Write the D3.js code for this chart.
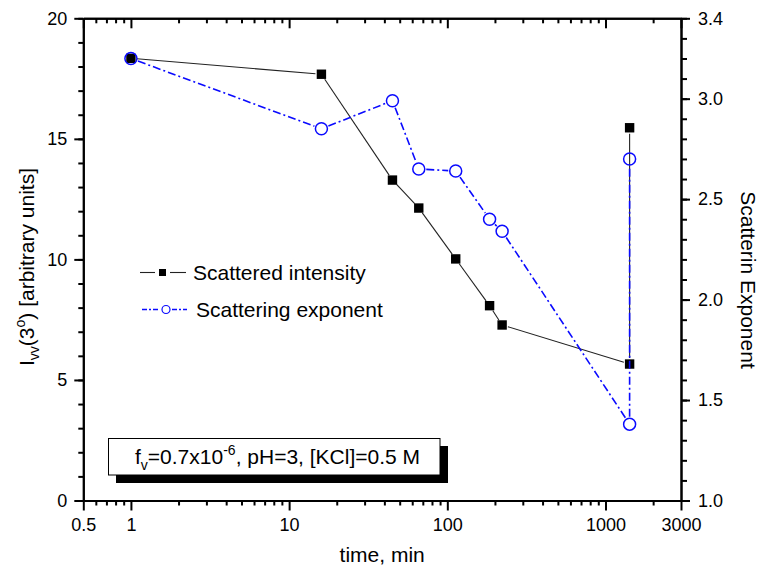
<!DOCTYPE html>
<html>
<head>
<meta charset="utf-8">
<script src="https://cdnjs.cloudflare.com/ajax/libs/d3/7.8.5/d3.min.js"></script>
<style>
  body { margin: 0; background: #fff; }
  svg text { font-family: Arial, "Liberation Sans", sans-serif; fill: #000; }
</style>
</head>
<body>
<svg id="chart" width="761" height="571"></svg>
<script>
// time in minutes (last two points share the same time)
var times = [1, 16, 45, 66, 113, 185, 222, 1420, 1420];
// scattered intensity, left axis
var intensity = [18.34, 17.68, 13.29, 12.13, 10.02, 8.08, 7.28, 5.66, 15.46];
// scattering exponent, right axis
var exponent = [3.20, 2.85, 2.99, 2.65, 2.64, 2.40, 2.34, 1.38, 2.70];

var xMajor = [0.5, 1, 10, 100, 1000, 3000];
var xMajorLabels = ["0.5", "1", "10", "100", "1000", "3000"];
var xMinor = [0.6, 0.7, 0.8, 0.9, 2, 3, 4, 5, 6, 7, 8, 9, 20, 30, 40, 50, 60, 70, 80, 90,
  200, 300, 400, 500, 600, 700, 800, 900, 2000];
var yLeftMajor = [0, 5, 10, 15, 20];
var yRightMajor = [1.0, 1.5, 2.0, 2.5, 3.0, 3.4];

var legendNames = ["Scattered intensity", "Scattering exponent"];

var plot = {left: 83.3, right: 681, top: 18.3, bottom: 500.5};
var blue = "#0a0aff";

var svg = d3.select("#chart");

var x = d3.scaleLog().domain([0.5, 3000]).range([plot.left, plot.right]);
var yL = d3.scaleLinear().domain([0, 20]).range([plot.bottom, plot.top]);
var yR = d3.scaleLinear().domain([1, 3.4]).range([plot.bottom, plot.top]);

function range(a, b, step) {
  var out = [];
  for (var v = a; v <= b + 1e-9; v += step) out.push(+v.toFixed(4));
  return out;
}

function styleAxis(g) {
  g.selectAll("path, line").attr("stroke", "#000").attr("stroke-width", 2);
  g.selectAll("text").style("font-size", "18px")
    .style("font-family", "Arial, 'Liberation Sans', sans-serif");
}

// minor ticks first, majors on top
svg.append("g").attr("transform", "translate(0," + plot.bottom + ")")
  .call(d3.axisBottom(x).tickValues(xMinor).tickFormat("").tickSize(5).tickSizeOuter(0))
  .call(styleAxis);
svg.append("g").attr("transform", "translate(0," + plot.bottom + ")")
  .call(d3.axisBottom(x).tickValues(xMajor).tickSize(10).tickSizeOuter(0).tickPadding(8)
    .tickFormat(function(d, i) { return xMajorLabels[i]; }))
  .call(styleAxis);

// top axis, ticks pointing inward, no labels
svg.append("g").attr("transform", "translate(0," + plot.top + ")")
  .call(d3.axisTop(x).tickValues(xMinor).tickFormat("").tickSize(-5).tickSizeOuter(0))
  .call(styleAxis);
svg.append("g").attr("transform", "translate(0," + plot.top + ")")
  .call(d3.axisTop(x).tickValues(xMajor).tickFormat("").tickSize(-10).tickSizeOuter(0))
  .call(styleAxis);

svg.append("g").attr("transform", "translate(" + plot.left + ",0)")
  .call(d3.axisLeft(yL).tickValues(range(0, 20, 1)).tickFormat("").tickSize(5).tickSizeOuter(0))
  .call(styleAxis);
svg.append("g").attr("transform", "translate(" + plot.left + ",0)")
  .call(d3.axisLeft(yL).tickValues(yLeftMajor).tickFormat(d3.format("d")).tickSize(9)
    .tickSizeOuter(0).tickPadding(7))
  .call(styleAxis);

svg.append("g").attr("transform", "translate(" + plot.right + ",0)")
  .call(d3.axisRight(yR).tickValues(range(1, 3.4, 0.1)).tickFormat("").tickSize(6).tickSizeOuter(0))
  .call(styleAxis);
svg.append("g").attr("transform", "translate(" + plot.right + ",0)")
  .call(d3.axisRight(yR).tickValues(yRightMajor).tickFormat(d3.format(".1f")).tickSize(9)
    .tickSizeOuter(0).tickPadding(8))
  .call(styleAxis);

// axis titles
svg.append("text").attr("x", (plot.left + plot.right) / 2).attr("y", 562)
  .attr("text-anchor", "middle").style("font-size", "21px").text("time, min");

var lt = svg.append("text").attr("transform", "translate(34,267) rotate(-90)")
  .attr("text-anchor", "middle").style("font-size", "21px");
lt.append("tspan").text("I");
lt.append("tspan").attr("dy", 5).style("font-size", "14px").text("vv");
lt.append("tspan").attr("dy", -5).text("(3");
lt.append("tspan").attr("dy", -9).style("font-size", "14px").text("o");
lt.append("tspan").attr("dy", 9).text(") [arbitrary units]");

svg.append("text").attr("transform", "translate(741,280) rotate(90)")
  .attr("text-anchor", "middle").style("font-size", "21px").text("Scatterin Exponent");

// lines are cut short around the symbols, like the original
function drawSegments(xs, ys, yScale, gap, color, width, dash) {
  var g = svg.append("g");
  for (var i = 0; i < xs.length - 1; i++) {
    var x1 = x(xs[i]), y1 = yScale(ys[i]), x2 = x(xs[i + 1]), y2 = yScale(ys[i + 1]);
    var len = Math.sqrt((x2 - x1) * (x2 - x1) + (y2 - y1) * (y2 - y1));
    if (len <= 2 * gap) continue;
    var ux = (x2 - x1) / len, uy = (y2 - y1) / len;
    g.append("line")
      .attr("x1", x1 + ux * gap).attr("y1", y1 + uy * gap)
      .attr("x2", x2 - ux * gap).attr("y2", y2 - uy * gap)
      .attr("stroke", color).attr("stroke-width", width)
      .attr("stroke-dasharray", dash || null);
  }
}

var pts = times.map(function(t, i) { return {t: t, a: intensity[i], b: exponent[i]}; });

drawSegments(times, intensity, yL, 6, "#222", 1.1);
svg.append("g").selectAll("rect").data(pts).enter().append("rect")
  .attr("x", function(d) { return x(d.t) - 4.7; })
  .attr("y", function(d) { return yL(d.a) - 4.7; })
  .attr("width", 9.4).attr("height", 9.4)
  .attr("fill", "#000");

drawSegments(times, exponent, yR, 7.5, blue, 1.6, "8,3,2,3");
svg.append("g").selectAll("circle").data(pts).enter().append("circle")
  .attr("cx", function(d) { return x(d.t); })
  .attr("cy", function(d) { return yR(d.b); })
  .attr("r", 6).attr("fill", "none")
  .attr("stroke", blue).attr("stroke-width", 1.5);

// legend
var lg = svg.append("g");
lg.append("line").attr("x1", 140).attr("x2", 155).attr("y1", 272.5).attr("y2", 272.5)
  .attr("stroke", "#222").attr("stroke-width", 1.1);
lg.append("line").attr("x1", 170).attr("x2", 186).attr("y1", 272.5).attr("y2", 272.5)
  .attr("stroke", "#222").attr("stroke-width", 1.1);
lg.append("rect").attr("x", 159).attr("y", 269).attr("width", 7).attr("height", 7).attr("fill", "#000");
lg.append("text").attr("x", 193).attr("y", 280).style("font-size", "21px").text(legendNames[0]);

lg.append("line").attr("x1", 142).attr("x2", 160).attr("y1", 309.5).attr("y2", 309.5)
  .attr("stroke", blue).attr("stroke-width", 1.4).attr("stroke-dasharray", "5,2,2,2");
lg.append("line").attr("x1", 172).attr("x2", 187).attr("y1", 309.5).attr("y2", 309.5)
  .attr("stroke", blue).attr("stroke-width", 1.4).attr("stroke-dasharray", "5,2,2,2");
lg.append("circle").attr("cx", 166).attr("cy", 309.5).attr("r", 4)
  .attr("fill", "none").attr("stroke", blue).attr("stroke-width", 1.2);
lg.append("text").attr("x", 196).attr("y", 317).style("font-size", "21px").text(legendNames[1]);

// annotation box with drop shadow
var note = svg.append("g");
note.append("rect").attr("x", 116).attr("y", 446).attr("width", 332).attr("height", 37).attr("fill", "#000");
note.append("rect").attr("x", 108.5).attr("y", 438.5).attr("width", 331.5).attr("height", 36.5)
  .attr("fill", "#fff").attr("stroke", "#000").attr("stroke-width", 1);
var nt = note.append("text").attr("x", 135).attr("y", 464).style("font-size", "21px");
nt.append("tspan").text("f");
nt.append("tspan").attr("dy", 6).style("font-size", "14px").text("v");
nt.append("tspan").attr("dy", -6).text("=0.7x10");
nt.append("tspan").attr("dy", -9).style("font-size", "14px").text("-6");
nt.append("tspan").attr("dy", 9).text(", pH=3, [KCl]=0.5 M");
</script>
</body>
</html>
